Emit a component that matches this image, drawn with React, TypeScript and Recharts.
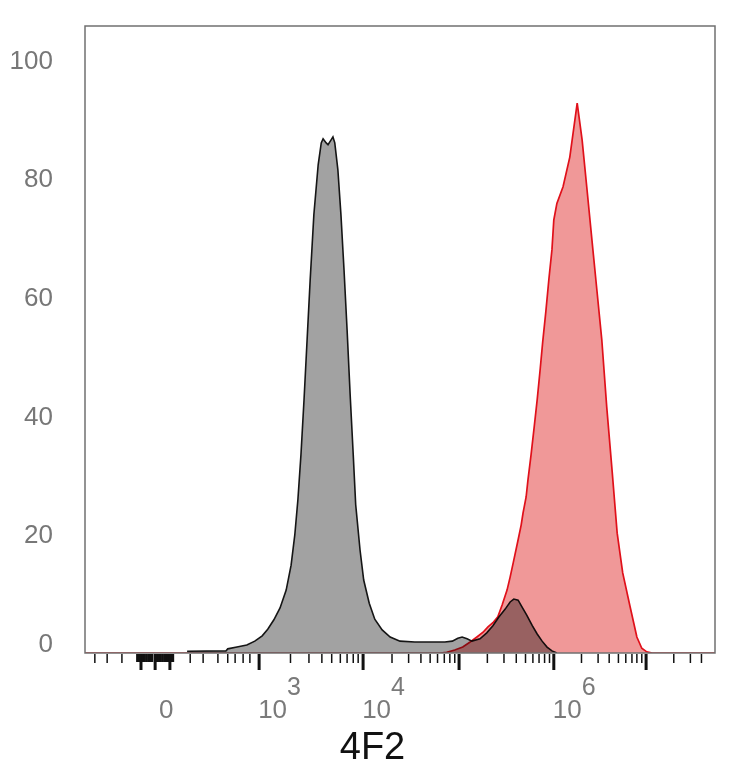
import { Area, ComposedChart, ReferenceArea, XAxis, YAxis } from 'recharts';

// histogram channels (0-1024 display scale) and % of max
const ctrlChannel = [
	166, 229, 232, 247, 263, 276, 288, 297, 307, 317, 327, 335, 341, 346, 351,
	356, 361, 366, 372, 379, 384, 387, 392, 395, 400, 403, 406, 411, 416, 421,
	426, 431, 436, 440, 447, 453, 462, 471, 483, 496, 512, 536, 561, 585, 597,
	606, 613, 621, 629, 642, 653, 663, 673, 683, 691, 697, 704, 710, 718, 727,
	735, 743, 751, 759, 767,
];
const ctrlCount = [
	0.3, 0.35, 0.7, 1.0, 1.35, 2.0, 2.9, 4.0, 5.6, 7.6, 10.6, 14.8, 19.9, 25.8,
	33.4, 42.7, 52.8, 62.9, 73.9, 82.3, 86.0, 86.7, 86.0, 85.7, 86.5, 87.0, 86.0,
	81.5, 73.9, 64.6, 54.5, 43.5, 33.4, 25.0, 17.4, 12.3, 8.4, 5.7, 3.9, 2.7,
	2.0, 1.85, 1.85, 1.85, 2.0, 2.5, 2.7, 2.4, 2.0, 2.4, 3.4, 4.6, 6.1, 7.4, 8.6,
	9.1, 8.9, 7.8, 6.4, 4.6, 3.2, 2.0, 1.0, 0.35, 0,
];

const stainChannel = [
	0, 577, 588, 601, 614, 626, 637, 647, 655, 663, 671, 678, 686, 691, 696, 704,
	709, 712, 717, 720, 725, 730, 735, 740, 744, 749, 754, 759, 762, 767, 777,
	788, 800, 808, 816, 824, 832, 840, 848, 857, 865, 874, 886, 897, 905, 913,
	922, 1024,
];
const stainCount = [
	0, 0, 0.1, 0.5, 1.0, 1.85, 2.7, 3.5, 4.4, 5.1, 6.1, 8.1, 10.6, 12.8, 15.2,
	19.1, 21.6, 23.6, 26.3, 29.2, 33.4, 38.0, 42.7, 48.0, 52.5, 57.5, 63.0, 68.0,
	73.0, 75.8, 78.6, 83.6, 92.7, 86.5, 78.1, 69.6, 61.2, 52.8, 41.5, 30.4, 20.2,
	13.5, 7.8, 2.7, 0.8, 0.2, 0, 0,
];

const yTicks = [0, 20, 40, 60, 80, 100];
const yMax = 105.7;

// biexponential axis: decade marks 10^3 .. 10^7 and the linear zone round 0
const decadeTicks = [283, 452, 608, 762, 912];
const majorTicks = [91, 114, 138, ...decadeTicks];
const negMinorTicks = [16, 36, 60];
const zeroZoneTicks = [
	85, 88, 94, 97, 100, 103, 106, 109, 117, 120, 123, 126, 129, 132, 135, 141,
	143,
];
const lowMinorTicks = [171, 192, 216, 232, 244, 257, 268];
const tickLabels: Record<number, string[]> = {
	114: ['0'],
	283: ['10', '3'],
	452: ['10', '4'],
	762: ['10', '6'],
};

const decadeMinorTicks: number[] = [];
decadeTicks.forEach((c, i) => {
	const last = i === decadeTicks.length - 1;
	const next = last ? c + (c - decadeTicks[i - 1]) : decadeTicks[i + 1];
	for (let k = 2; k <= (last ? 4 : 9); k++) {
		decadeMinorTicks.push(Math.round(c + (next - c) * Math.log10(k)));
	}
});

const xTicks = [
	...negMinorTicks,
	...zeroZoneTicks,
	...majorTicks,
	...lowMinorTicks,
	...decadeMinorTicks,
].sort((a, b) => a - b);

const ctrlData = ctrlChannel.map((ch, i) => ({ ch, v: ctrlCount[i] }));
const stainData = stainChannel.map((ch, i) => ({ ch, v: stainCount[i] }));

const font = '"Liberation Sans", Arial, sans-serif';

const XTick = (props: any) => {
	const { x, y, payload } = props;
	const val = payload.value;
	const major = majorTicks.includes(val);
	const zone = zeroZoneTicks.includes(val);
	const label = tickLabels[val];
	return (
		<g>
			<line
				x1={x}
				x2={x}
				y1={y + 1}
				y2={y + (major ? 17 : zone ? 9 : 10)}
				stroke="#111"
				strokeWidth={major ? 3 : zone ? 2.4 : 1.5}
			/>
			{label && (
				<text
					x={x + (label.length > 1 ? 13.5 : 11)}
					y={y + 65}
					textAnchor="middle"
					fontFamily={font}
					fontSize={26}
					fill="#7a7a7a"
				>
					{label[0]}
				</text>
			)}
			{label && label[1] && (
				<text
					x={x + 28}
					y={y + 42}
					fontFamily={font}
					fontSize={25}
					fill="#7a7a7a"
				>
					{label[1]}
				</text>
			)}
		</g>
	);
};

const YTick = (props: any) => {
	const { x, y, payload } = props;
	return (
		<text
			x={x - 32}
			y={y + (payload.value === 0 ? -1 : 9)}
			textAnchor="end"
			fontFamily={font}
			fontSize={26}
			fill="#777"
		>
			{payload.value}
		</text>
	);
};

const AxisTitle = (props: any) => {
	const { viewBox } = props;
	return (
		<text
			x={viewBox.x + 287.5}
			y={viewBox.y + 106}
			textAnchor="middle"
			fontFamily={font}
			fontSize={38}
			fill="#111"
		>
			4F2
		</text>
	);
};

export default function App() {
	return (
		<div style={{ width: 734, height: 768 }}>
			<style>{'body{margin:0}.ctrl-area{mix-blend-mode:multiply}'}</style>
			<ComposedChart
				width={734}
				height={768}
				margin={{ top: 26, right: 19, bottom: 0, left: 0 }}
			>
				<XAxis
					dataKey="ch"
					type="number"
					domain={[0, 1024]}
					allowDataOverflow
					ticks={xTicks}
					interval={0}
					tick={<XTick />}
					tickSize={0}
					tickMargin={0}
					tickLine={false}
					axisLine={false}
					height={115}
					label={<AxisTitle />}
				/>
				<YAxis
					type="number"
					domain={[0, yMax]}
					allowDataOverflow
					ticks={yTicks}
					interval={0}
					tick={<YTick />}
					tickSize={0}
					tickMargin={0}
					tickLine={false}
					axisLine={false}
					width={85}
				/>
				<Area
					data={stainData}
					dataKey="v"
					type="linear"
					fill="#f09898"
					fillOpacity={1}
					stroke="#e0101a"
					strokeWidth={1.7}
					dot={false}
					activeDot={false}
					isAnimationActive={false}
				/>
				<Area
					className="ctrl-area"
					data={ctrlData}
					dataKey="v"
					type="linear"
					fill="#a2a2a2"
					fillOpacity={1}
					stroke="#151515"
					strokeWidth={1.6}
					dot={false}
					activeDot={false}
					isAnimationActive={false}
				/>
				<ReferenceArea
					x1={0}
					x2={1024}
					y1={0}
					y2={yMax}
					fill="none"
					stroke="#707070"
					strokeWidth={1.5}
				/>
			</ComposedChart>
		</div>
	);
}
